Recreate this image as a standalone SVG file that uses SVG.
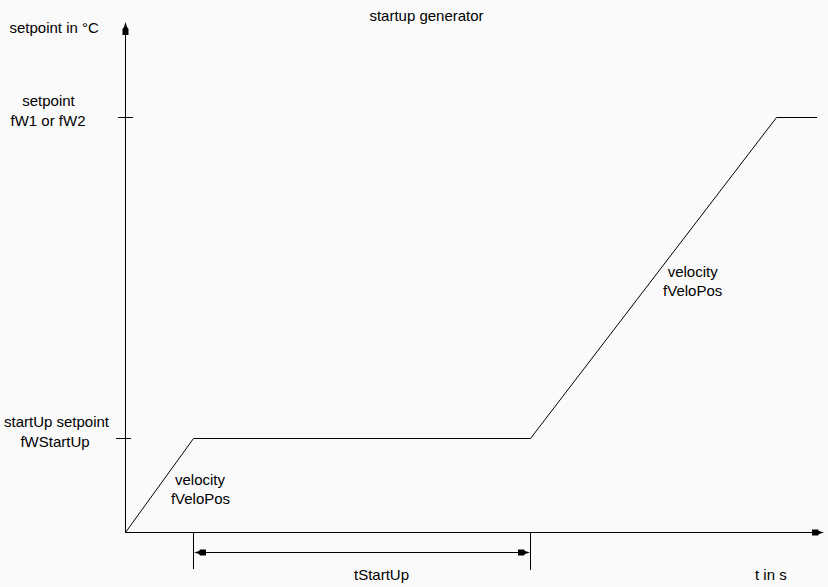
<svg xmlns="http://www.w3.org/2000/svg" width="828" height="587" viewBox="0 0 828 587">
  <style>
    text { font-family: "Liberation Sans", Arial, sans-serif; font-size: 15px; fill: #000; }
    .ln { stroke: #000; stroke-width: 1; fill: none; }
    .crisp { shape-rendering: crispEdges; }
    .ah { fill: #000; stroke: none; }
  </style>
  <rect width="828" height="587" fill="#fafafa"/>
  <text x="426.5" y="20.5" text-anchor="middle">startup generator</text>

  <g id="axes">
    <line class="ln crisp" x1="125.5" y1="30" x2="125.5" y2="532.5"/>
    <path class="ah" d="M125.5,22 L127,27 L128.5,29 L128.5,35 L122.5,35 L122.5,29 L124,27 Z"/>
    <line class="ln crisp" x1="125" y1="532.5" x2="816" y2="532.5"/>
    <path class="ah" d="M824,532.5 L819,531 L818,529.5 L812,529.5 L812,535.5 L818,535.5 L819,534 Z"/>
    <line class="ln crisp" x1="118" y1="117.5" x2="133" y2="117.5"/>
    <line class="ln crisp" x1="116" y1="438.5" x2="131" y2="438.5"/>
    <text x="9.5" y="33">setpoint in °C</text>
    <text x="48.5" y="105.5" text-anchor="middle">setpoint</text>
    <text x="48" y="126" text-anchor="middle">fW1 or fW2</text>
    <text x="56.5" y="426.5" text-anchor="middle">startUp setpoint</text>
    <text x="55" y="446.5" text-anchor="middle">fWStartUp</text>
    <text x="755" y="580">t in s</text>
  </g>

  <g id="connectors">
    <polyline class="ln" points="125.5,532.5 193.5,438.5 530.5,438.5 776.5,117.5 817,117.5"/>
  </g>

  <g id="ramp1-label">
    <text x="200" y="485" text-anchor="middle">velocity</text>
    <text x="200.5" y="504" text-anchor="middle">fVeloPos</text>
  </g>
  <g id="ramp2-label">
    <text x="692.7" y="277" text-anchor="middle">velocity</text>
    <text x="692.7" y="296" text-anchor="middle">fVeloPos</text>
  </g>

  <g id="dimension">
    <line class="ln crisp" x1="193.5" y1="532" x2="193.5" y2="569"/>
    <line class="ln crisp" x1="530.5" y1="532" x2="530.5" y2="570"/>
    <line class="ln crisp" x1="200" y1="552.5" x2="524" y2="552.5"/>
    <path class="ah" d="M194,552.5 L199,551 L200,549.5 L206,549.5 L206,555.5 L200,555.5 L199,554 Z"/>
    <path class="ah" d="M530,552.5 L525,551 L524,549.5 L518,549.5 L518,555.5 L524,555.5 L525,554 Z"/>
    <text x="381.5" y="580" text-anchor="middle">tStartUp</text>
  </g>
</svg>
